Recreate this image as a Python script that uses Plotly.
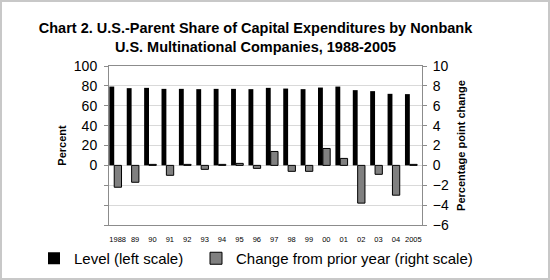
import plotly.graph_objects as go

# Data
years = ['1988', '89', '90', '91', '92', '93', '94', '95', '96',
         '97', '98', '99', '00', '01', '02', '03', '04', '2005']
level = [79.3, 77.7, 78.0, 77.0, 77.0, 76.7, 77.0, 77.0, 76.7,
         78.0, 77.3, 76.7, 78.3, 79.3, 75.7, 74.7, 72.0, 71.7]
change = [-2.2, -1.7, 0.1, -1.0, 0.1, -0.4, 0.1, 0.2, -0.3,
          1.4, -0.6, -0.6, 1.7, 0.7, -3.8, -0.9, -3.0, 0.1]

left_ticks = [-60, -40, -20, 0, 20, 40, 60, 80, 100]
left_labels = ['', '', '', '0', '20', '40', '60', '80', '100']

FONT = 'Liberation Sans, Arial, sans-serif'
FRAME = '#8c8c8c'
GRID = '#d9d9d9'

W, H = 550, 280
ML, MR, MT, MB = 109, 128, 66, 55
PW, PH = W - ML - MR, H - MT - MB

fig = go.Figure()

fig.add_trace(go.Bar(
    x=years, y=level, name='Level (left scale)', legend='legend',
    marker=dict(color='black', line=dict(width=0)),
    offset=-0.48, width=0.28, yaxis='y',
))
fig.add_trace(go.Bar(
    x=years, y=change, name='Change from prior year (right scale)', legend='legend2',
    marker=dict(color='#808080', line=dict(color='black', width=1)),
    offset=-0.2, width=0.42, yaxis='y2',
))

legend_style = dict(
    orientation='h', xref='container', xanchor='left',
    y=1 - 258.5 / H, yref='container', yanchor='middle',
    font=dict(size=15, family=FONT), bgcolor='rgba(0,0,0,0)',
)

fig.update_layout(
    width=W, height=H,
    margin=dict(l=ML, r=MR, t=MT, b=MB, autoexpand=False),
    paper_bgcolor='white', plot_bgcolor='white',
    font=dict(family=FONT, color='black'),
    title=dict(
        text='Chart 2. U.S.-Parent Share of Capital Expenditures by Nonbank<br>'
             'U.S. Multinational Companies, 1988-2005',
        font=dict(size=14.5, family=FONT, weight='bold'),
        x=255.5 / W, xref='container', xanchor='center',
        y=1 - 33 / H, yref='container', yanchor='top',
    ),
    barmode='overlay',
    showlegend=True,
    legend=dict(legend_style, x=34 / W),
    legend2=dict(legend_style, x=196 / W),
    xaxis=dict(
        type='category', showline=True, linecolor=FRAME, linewidth=1, mirror=True,
        ticks='', showgrid=False, zeroline=False, tickangle=0, automargin=False,
        tickfont=dict(size=7.5, family='Liberation Sans Narrow, Arial Narrow, ' + FONT),
        ticklabelstandoff=7,
    ),
    yaxis=dict(
        range=[-60, 100], tickvals=left_ticks, ticktext=left_labels,
        showline=True, linecolor=FRAME, linewidth=1, automargin=False,
        ticks='outside', ticklen=4, tickcolor=FRAME, ticklabelstandoff=4,
        showgrid=True, gridcolor=GRID, zeroline=False,
        tickfont=dict(size=14),
        title=dict(text='Percent', font=dict(size=11, weight='bold'), standoff=4),
    ),
    yaxis2=dict(
        range=[-6, 10], dtick=2, overlaying='y', side='right',
        showline=True, linecolor=FRAME, linewidth=1, automargin=False,
        ticks='outside', ticklen=4, tickcolor=FRAME, ticklabelstandoff=3,
        showgrid=False, zeroline=False,
        tickfont=dict(size=14),
        title=dict(text='Percentage point change', font=dict(size=11, weight='bold'), standoff=9),
    ),
)

# light grey border around the whole picture
fig.add_shape(
    type='rect', xref='paper', yref='paper', layer='above',
    x0=(-ML + 1) / PW, x1=1 + (MR - 1) / PW,
    y0=-(MB - 1) / PH, y1=1 + (MT - 1) / PH,
    line=dict(color='#c8c8c8', width=2),
)

# drop the browser's default 8px body margin so the chart sits at the page corner
fig.write_html('out.html', config={'displayModeBar': False},
               post_script="document.body.style.margin='0';")
